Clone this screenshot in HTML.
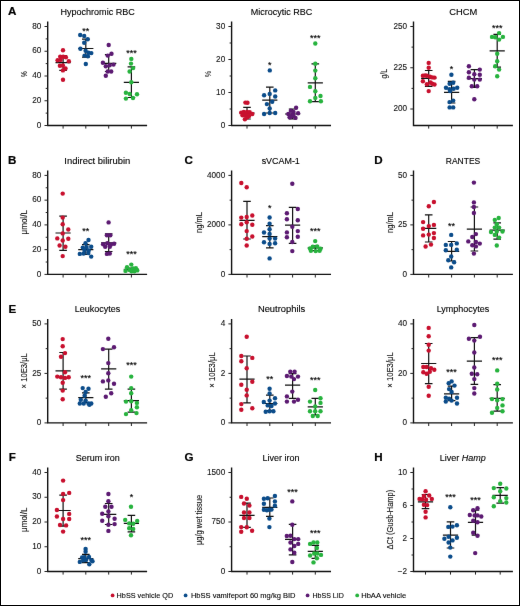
<!DOCTYPE html>
<html><head><meta charset="utf-8"><style>
html,body{margin:0;padding:0;background:#fff;}
.wrap{position:relative;width:520px;height:606px;box-sizing:border-box;border:1px solid #000;overflow:hidden;background:#fff}
svg{position:absolute;left:-1px;top:-1px;}
text{font-family:"Liberation Sans", sans-serif;fill:#000;stroke:#000;stroke-width:0.2px;}
.tk{font-size:8.2px;stroke-width:0.1px;fill:#111;stroke:#111}
.tt{font-size:9.7px;stroke-width:0.12px}
.lt{font-size:11.6px;font-weight:bold;fill:#000;stroke:#000;stroke-width:0.2px}
.yl{stroke-width:0.1px;fill:#111;stroke:#111}
.st{font-size:9px;stroke-width:0.15px;fill:#000}
.lg{font-size:8px;stroke-width:0.1px}
</style></head><body><div class="wrap">
<svg width="520" height="606" viewBox="0 0 520 606">
<defs><filter id="bl" x="0" y="0" width="100%" height="100%" color-interpolation-filters="sRGB" filterUnits="userSpaceOnUse"><feConvolveMatrix order="3" kernelMatrix="0.0016 0.0371 0.0016 0.0371 0.8450 0.0371 0.0016 0.0371 0.0016" edgeMode="duplicate" preserveAlpha="true"/></filter></defs>
<g filter="url(#bl)">
<rect x="0" y="0" width="520" height="606" fill="#fff"/>
<path d="M47.7 21.6V125.5H147.1" fill="none" stroke="#111" stroke-width="1.4"/>
<path d="M44.5 125.5H47.7M44.5 100.75H47.7M44.5 76H47.7M44.5 51.25H47.7M44.5 26.5H47.7M45.7 113.12H47.7M45.7 88.38H47.7M45.7 63.62H47.7M45.7 38.88H47.7M63.1 125.5V128.6M85.8 125.5V128.6M108.7 125.5V128.6M131.4 125.5V128.6" stroke="#222" stroke-width="1"/>
<text x="41.3" y="127.7" text-anchor="end" class="tk">0</text>
<text x="41.3" y="102.95" text-anchor="end" class="tk">20</text>
<text x="41.3" y="78.2" text-anchor="end" class="tk">40</text>
<text x="41.3" y="53.45" text-anchor="end" class="tk">60</text>
<text x="41.3" y="28.7" text-anchor="end" class="tk">80</text>
<text x="60.4" y="15.1" class="tt" textLength="74.4" lengthAdjust="spacingAndGlyphs">Hypochromic RBC</text>
<text x="8" y="15.1" class="lt">A</text>
<text transform="translate(26.9 76.9) rotate(-90)" class="yl" style="font-size:9.6px" textLength="5.8" lengthAdjust="spacingAndGlyphs">%</text>
<path d="M55.5 62.7H70.7M59.3 55.6H66.9M59.3 70.4H66.9M63.1 55.6V70.4" stroke="#111" stroke-width="1.2" fill="none"/>
<g fill="#c8102e"><circle cx="63" cy="50.2" r="2.2"/><circle cx="60.2" cy="56.6" r="2.2"/><circle cx="63.2" cy="56.8" r="2.2"/><circle cx="65.9" cy="57.2" r="2.2"/><circle cx="57.6" cy="60.2" r="2.2"/><circle cx="60.6" cy="59.9" r="2.2"/><circle cx="68.8" cy="61.2" r="2.2"/><circle cx="59.9" cy="65.8" r="2.2"/><circle cx="62.9" cy="65.5" r="2.2"/><circle cx="65.5" cy="68.5" r="2.2"/><circle cx="62.9" cy="70.4" r="2.2"/><circle cx="63" cy="79.8" r="2.2"/></g>
<path d="M78.2 48.5H93.4M82 39.2H89.6M82 57.1H89.6M85.8 39.2V57.1" stroke="#111" stroke-width="1.2" fill="none"/>
<g fill="#0b4c8a"><circle cx="80.2" cy="35" r="2.2"/><circle cx="84.2" cy="36" r="2.2"/><circle cx="87.7" cy="39.2" r="2.2"/><circle cx="84.2" cy="42.7" r="2.2"/><circle cx="80.4" cy="48.8" r="2.2"/><circle cx="85.6" cy="50.8" r="2.2"/><circle cx="88.5" cy="52.7" r="2.2"/><circle cx="91.3" cy="53.1" r="2.2"/><circle cx="84.6" cy="55.6" r="2.2"/><circle cx="87.9" cy="56.2" r="2.2"/><circle cx="85.8" cy="64" r="2.2"/></g>
<text x="85.8" y="33.5" text-anchor="middle" class="st">**</text>
<path d="M101.1 63.3H116.3M104.9 54.6H112.5M104.9 71.5H112.5M108.7 54.6V71.5" stroke="#111" stroke-width="1.2" fill="none"/>
<g fill="#5c1a72"><circle cx="108.7" cy="45" r="2.2"/><circle cx="111.5" cy="53.7" r="2.2"/><circle cx="107.7" cy="55.6" r="2.2"/><circle cx="102.9" cy="62.7" r="2.2"/><circle cx="105.8" cy="66.2" r="2.2"/><circle cx="109.6" cy="65.2" r="2.2"/><circle cx="113.5" cy="64.6" r="2.2"/><circle cx="107.7" cy="71.5" r="2.2"/><circle cx="111.2" cy="71.5" r="2.2"/><circle cx="105.8" cy="75.8" r="2.2"/></g>
<path d="M123.8 82.3H139M127.6 66.8H135.2M127.6 97.5H135.2M131.4 66.8V97.5" stroke="#111" stroke-width="1.2" fill="none"/>
<g fill="#27b33e"><circle cx="131.3" cy="58.9" r="2.2"/><circle cx="131" cy="63.6" r="2.2"/><circle cx="133.1" cy="68.1" r="2.2"/><circle cx="129.6" cy="71.5" r="2.2"/><circle cx="131.3" cy="82.3" r="2.2"/><circle cx="125.9" cy="92.8" r="2.2"/><circle cx="129.7" cy="94" r="2.2"/><circle cx="137" cy="94.2" r="2.2"/><circle cx="125.9" cy="98.6" r="2.2"/><circle cx="133" cy="98" r="2.2"/></g>
<text x="131.4" y="56.2" text-anchor="middle" class="st">***</text>
<path d="M231.6 21.6V125.5H331" fill="none" stroke="#111" stroke-width="1.4"/>
<path d="M228.4 125.5H231.6M228.4 92.5H231.6M228.4 59.5H231.6M228.4 26.5H231.6M229.6 109H231.6M229.6 76H231.6M229.6 43H231.6M247 125.5V128.6M269.8 125.5V128.6M292.6 125.5V128.6M315.3 125.5V128.6" stroke="#222" stroke-width="1"/>
<text x="225.2" y="127.7" text-anchor="end" class="tk">0</text>
<text x="225.2" y="94.7" text-anchor="end" class="tk">10</text>
<text x="225.2" y="61.7" text-anchor="end" class="tk">20</text>
<text x="225.2" y="28.7" text-anchor="end" class="tk">30</text>
<text x="250.75" y="15.1" class="tt" textLength="61.6" lengthAdjust="spacingAndGlyphs">Microcytic RBC</text>
<text transform="translate(210.5 76.9) rotate(-90)" class="yl" style="font-size:9.6px" textLength="6.0" lengthAdjust="spacingAndGlyphs">%</text>
<path d="M239.4 113H254.6M243.2 107.4H250.8M243.2 119H250.8M247 107.4V119" stroke="#111" stroke-width="1.2" fill="none"/>
<g fill="#c8102e"><circle cx="245.4" cy="102.6" r="2.2"/><circle cx="247.5" cy="102.8" r="2.2"/><circle cx="241.2" cy="112.6" r="2.2"/><circle cx="243.8" cy="112" r="2.2"/><circle cx="247.1" cy="112" r="2.2"/><circle cx="249.7" cy="112.3" r="2.2"/><circle cx="252.3" cy="114" r="2.2"/><circle cx="242.5" cy="115.3" r="2.2"/><circle cx="245.8" cy="115.3" r="2.2"/><circle cx="249.1" cy="115.9" r="2.2"/><circle cx="244.9" cy="119.2" r="2.2"/><circle cx="247.5" cy="117.2" r="2.2"/></g>
<path d="M262.2 100.1H277.4M266 87.1H273.6M266 113H273.6M269.8 87.1V113" stroke="#111" stroke-width="1.2" fill="none"/>
<g fill="#0b4c8a"><circle cx="269.8" cy="70.4" r="2.2"/><circle cx="275.2" cy="90.4" r="2.2"/><circle cx="269.7" cy="93.9" r="2.2"/><circle cx="264.1" cy="95.3" r="2.2"/><circle cx="275.2" cy="96.5" r="2.2"/><circle cx="272.2" cy="101.8" r="2.2"/><circle cx="266.9" cy="104.1" r="2.2"/><circle cx="269.7" cy="108.5" r="2.2"/><circle cx="264.1" cy="114" r="2.2"/><circle cx="269.7" cy="113" r="2.2"/><circle cx="275.2" cy="113" r="2.2"/></g>
<text x="269.8" y="67.6" text-anchor="middle" class="st">*</text>
<path d="M285 114H300.2M288.8 109H296.4M288.8 119H296.4M292.6 109V119" stroke="#111" stroke-width="1.2" fill="none"/>
<g fill="#5c1a72"><circle cx="296.1" cy="107.8" r="2.2"/><circle cx="290.9" cy="110.7" r="2.2"/><circle cx="293.5" cy="112" r="2.2"/><circle cx="288.3" cy="114" r="2.2"/><circle cx="292.2" cy="114.6" r="2.2"/><circle cx="298.1" cy="113.3" r="2.2"/><circle cx="289.6" cy="117.2" r="2.2"/><circle cx="295.5" cy="117.9" r="2.2"/><circle cx="293.5" cy="115.9" r="2.2"/><circle cx="290.7" cy="117.1" r="2.2"/></g>
<path d="M307.7 82.9H322.9M311.5 63.8H319.1M311.5 101.7H319.1M315.3 63.8V101.7" stroke="#111" stroke-width="1.2" fill="none"/>
<g fill="#27b33e"><circle cx="315.3" cy="43.5" r="2.2"/><circle cx="315.3" cy="63.7" r="2.2"/><circle cx="315.3" cy="70.6" r="2.2"/><circle cx="315.3" cy="78.3" r="2.2"/><circle cx="310" cy="86.9" r="2.2"/><circle cx="315.3" cy="91.2" r="2.2"/><circle cx="320.5" cy="96" r="2.2"/><circle cx="315.3" cy="97.9" r="2.2"/><circle cx="310" cy="101.2" r="2.2"/><circle cx="320.9" cy="101.2" r="2.2"/></g>
<text x="315.3" y="41.2" text-anchor="middle" class="st">***</text>
<path d="M413.5 21.6V125.5H512.9" fill="none" stroke="#111" stroke-width="1.4"/>
<path d="M410.3 109H413.5M410.3 67.75H413.5M410.3 26.5H413.5M411.5 88.38H413.5M411.5 47.12H413.5M428.7 125.5V128.6M451.6 125.5V128.6M474.4 125.5V128.6M497.2 125.5V128.6" stroke="#222" stroke-width="1"/>
<text x="407.1" y="111.2" text-anchor="end" class="tk">200</text>
<text x="407.1" y="69.95" text-anchor="end" class="tk">225</text>
<text x="407.1" y="28.7" text-anchor="end" class="tk">250</text>
<text x="449.2" y="15.1" class="tt" textLength="28.0" lengthAdjust="spacingAndGlyphs">CHCM</text>
<text transform="translate(387 78.6) rotate(-90)" class="yl" style="font-size:9.3px" textLength="9.6" lengthAdjust="spacingAndGlyphs">g/L</text>
<path d="M421.1 78.3H436.3M424.9 70.5H432.5M424.9 86.3H432.5M428.7 70.5V86.3" stroke="#111" stroke-width="1.2" fill="none"/>
<g fill="#c8102e"><circle cx="428.7" cy="62.9" r="2.2"/><circle cx="428.7" cy="67.8" r="2.2"/><circle cx="422.9" cy="75.8" r="2.2"/><circle cx="425.1" cy="75.4" r="2.2"/><circle cx="426.9" cy="75.8" r="2.2"/><circle cx="430" cy="76.7" r="2.2"/><circle cx="434.5" cy="77.6" r="2.2"/><circle cx="432.2" cy="77.4" r="2.2"/><circle cx="422.9" cy="81.2" r="2.2"/><circle cx="426.9" cy="84.3" r="2.2"/><circle cx="430.5" cy="82.5" r="2.2"/><circle cx="432.2" cy="83.8" r="2.2"/><circle cx="434.5" cy="84.5" r="2.2"/><circle cx="428.7" cy="91.1" r="2.2"/></g>
<path d="M444 92.3H459.2M447.8 81.3H455.4M447.8 103H455.4M451.6 81.3V103" stroke="#111" stroke-width="1.2" fill="none"/>
<g fill="#0b4c8a"><circle cx="451.4" cy="74.7" r="2.2"/><circle cx="449.6" cy="83.8" r="2.2"/><circle cx="453.2" cy="82.8" r="2.2"/><circle cx="446" cy="87.8" r="2.2"/><circle cx="449.6" cy="89.2" r="2.2"/><circle cx="453.6" cy="88.7" r="2.2"/><circle cx="457.2" cy="87.8" r="2.2"/><circle cx="450.1" cy="91" r="2.2"/><circle cx="449.6" cy="102.1" r="2.2"/><circle cx="453.2" cy="100.6" r="2.2"/><circle cx="449.6" cy="107.4" r="2.2"/><circle cx="453.2" cy="107.4" r="2.2"/></g>
<text x="451.6" y="71.6" text-anchor="middle" class="st">*</text>
<path d="M466.8 78.7H482M470.6 69.6H478.2M470.6 87.3H478.2M474.4 69.6V87.3" stroke="#111" stroke-width="1.2" fill="none"/>
<g fill="#5c1a72"><circle cx="468.9" cy="66.2" r="2.2"/><circle cx="468.9" cy="72.3" r="2.2"/><circle cx="474.3" cy="74.2" r="2.2"/><circle cx="479.8" cy="69.6" r="2.2"/><circle cx="479.8" cy="74.8" r="2.2"/><circle cx="468.9" cy="77.7" r="2.2"/><circle cx="474.3" cy="79.6" r="2.2"/><circle cx="479.8" cy="79.6" r="2.2"/><circle cx="471.8" cy="86.3" r="2.2"/><circle cx="477.2" cy="86.3" r="2.2"/><circle cx="474.3" cy="99.2" r="2.2"/></g>
<path d="M489.6 50.8H504.8M493.4 34.4H501M493.4 67.1H501M497.2 34.4V67.1" stroke="#111" stroke-width="1.2" fill="none"/>
<g fill="#27b33e"><circle cx="499.1" cy="33.1" r="2.2"/><circle cx="492" cy="36.9" r="2.2"/><circle cx="495.2" cy="37.3" r="2.2"/><circle cx="502.9" cy="36.9" r="2.2"/><circle cx="499.1" cy="39.6" r="2.2"/><circle cx="497.2" cy="53.7" r="2.2"/><circle cx="497.2" cy="61.3" r="2.2"/><circle cx="495.2" cy="66.2" r="2.2"/><circle cx="499.1" cy="69.6" r="2.2"/><circle cx="497.2" cy="76.2" r="2.2"/></g>
<text x="497.2" y="31.4" text-anchor="middle" class="st">***</text>
<path d="M47.7 170.5V274.4H147.1" fill="none" stroke="#111" stroke-width="1.4"/>
<path d="M44.5 274.4H47.7M44.5 249.65H47.7M44.5 224.9H47.7M44.5 200.15H47.7M44.5 175.4H47.7M45.7 262.02H47.7M45.7 237.27H47.7M45.7 212.52H47.7M45.7 187.77H47.7M63.1 274.4V277.5M85.8 274.4V277.5M108.7 274.4V277.5M131.4 274.4V277.5" stroke="#222" stroke-width="1"/>
<text x="41.3" y="276.6" text-anchor="end" class="tk">0</text>
<text x="41.3" y="251.85" text-anchor="end" class="tk">20</text>
<text x="41.3" y="227.1" text-anchor="end" class="tk">40</text>
<text x="41.3" y="202.35" text-anchor="end" class="tk">60</text>
<text x="41.3" y="177.6" text-anchor="end" class="tk">80</text>
<text x="64.35" y="163.6" class="tt" textLength="65.9" lengthAdjust="spacingAndGlyphs">Indirect bilirubin</text>
<text x="8" y="163.8" class="lt">B</text>
<text transform="translate(27 234.45) rotate(-90)" class="yl" style="font-size:9.4px" textLength="24.3" lengthAdjust="spacingAndGlyphs">μmol/L</text>
<path d="M55.5 233H70.7M59.3 216.1H66.9M59.3 250.3H66.9M63.1 216.1V250.3" stroke="#111" stroke-width="1.2" fill="none"/>
<g fill="#c8102e"><circle cx="62.7" cy="193.6" r="2.2"/><circle cx="62.7" cy="217.6" r="2.2"/><circle cx="62.7" cy="224.2" r="2.2"/><circle cx="68.3" cy="229.5" r="2.2"/><circle cx="62.7" cy="233.4" r="2.2"/><circle cx="57.3" cy="238.4" r="2.2"/><circle cx="68.3" cy="238.8" r="2.2"/><circle cx="62.7" cy="240.5" r="2.2"/><circle cx="59.6" cy="245.5" r="2.2"/><circle cx="65.4" cy="246.8" r="2.2"/><circle cx="62.7" cy="256.1" r="2.2"/></g>
<path d="M78.2 249.7H93.4M82 244.6H89.6M82 254.5H89.6M85.8 244.6V254.5" stroke="#111" stroke-width="1.2" fill="none"/>
<g fill="#0b4c8a"><circle cx="88.5" cy="240" r="2.2"/><circle cx="85.5" cy="243.3" r="2.2"/><circle cx="82.8" cy="247.6" r="2.2"/><circle cx="86.6" cy="247.1" r="2.2"/><circle cx="91.2" cy="246.7" r="2.2"/><circle cx="84.5" cy="250.1" r="2.2"/><circle cx="88.7" cy="250.5" r="2.2"/><circle cx="79.8" cy="253.9" r="2.2"/><circle cx="83.6" cy="253.5" r="2.2"/><circle cx="88.3" cy="253.1" r="2.2"/><circle cx="91.2" cy="256.6" r="2.2"/></g>
<text x="85.8" y="233.7" text-anchor="middle" class="st">**</text>
<path d="M101.1 242.9H116.3M104.9 233.8H112.5M104.9 251.5H112.5M108.7 233.8V251.5" stroke="#111" stroke-width="1.2" fill="none"/>
<g fill="#5c1a72"><circle cx="108.6" cy="222.4" r="2.2"/><circle cx="106.9" cy="235.3" r="2.2"/><circle cx="110.3" cy="235.3" r="2.2"/><circle cx="103.1" cy="244.2" r="2.2"/><circle cx="107.3" cy="243.3" r="2.2"/><circle cx="114.1" cy="243.8" r="2.2"/><circle cx="111" cy="244.5" r="2.2"/><circle cx="105.2" cy="246.7" r="2.2"/><circle cx="109.8" cy="246.7" r="2.2"/><circle cx="106.9" cy="253.9" r="2.2"/><circle cx="109.8" cy="253.5" r="2.2"/></g>
<path d="M123.8 269.4H139M127.6 268.2H135.2M127.6 270.6H135.2M131.4 268.2V270.6" stroke="#111" stroke-width="1.2" fill="none"/>
<g fill="#27b33e"><circle cx="131.3" cy="264.6" r="2.2"/><circle cx="127" cy="267.3" r="2.2"/><circle cx="125.5" cy="270.9" r="2.2"/><circle cx="129.6" cy="269.9" r="2.2"/><circle cx="133" cy="268.5" r="2.2"/><circle cx="135.9" cy="268.2" r="2.2"/><circle cx="137.3" cy="270.4" r="2.2"/><circle cx="131.5" cy="271.3" r="2.2"/><circle cx="134.4" cy="271.3" r="2.2"/></g>
<text x="131.4" y="256.5" text-anchor="middle" class="st">***</text>
<path d="M231.6 170.5V274.4H331" fill="none" stroke="#111" stroke-width="1.4"/>
<path d="M228.4 274.4H231.6M228.4 224.9H231.6M228.4 175.4H231.6M229.6 249.65H231.6M229.6 200.15H231.6M247 274.4V277.5M269.8 274.4V277.5M292.6 274.4V277.5M315.3 274.4V277.5" stroke="#222" stroke-width="1"/>
<text x="225.2" y="276.6" text-anchor="end" class="tk">0</text>
<text x="225.2" y="227.1" text-anchor="end" class="tk">2000</text>
<text x="225.2" y="177.6" text-anchor="end" class="tk">4000</text>
<text x="261.65" y="163.6" class="tt" textLength="38.2" lengthAdjust="spacingAndGlyphs">sVCAM-1</text>
<text x="184.6" y="163.8" class="lt">C</text>
<text transform="translate(202.1 232.9) rotate(-90)" class="yl" style="font-size:9.3px" textLength="20.8" lengthAdjust="spacingAndGlyphs">ng/mL</text>
<path d="M239.4 220.4H254.6M243.2 201.4H250.8M243.2 239H250.8M247 201.4V239" stroke="#111" stroke-width="1.2" fill="none"/>
<g fill="#c8102e"><circle cx="241.3" cy="183" r="2.2"/><circle cx="246.7" cy="187.2" r="2.2"/><circle cx="241.3" cy="217.6" r="2.2"/><circle cx="246.7" cy="217" r="2.2"/><circle cx="252.3" cy="215.5" r="2.2"/><circle cx="241.3" cy="224.2" r="2.2"/><circle cx="246.7" cy="222.2" r="2.2"/><circle cx="252.3" cy="224.7" r="2.2"/><circle cx="246.7" cy="231.1" r="2.2"/><circle cx="252.3" cy="236.5" r="2.2"/><circle cx="246.7" cy="238.8" r="2.2"/><circle cx="246.7" cy="245.5" r="2.2"/></g>
<path d="M262.2 236.7H277.4M266 225.6H273.6M266 247.8H273.6M269.8 225.6V247.8" stroke="#111" stroke-width="1.2" fill="none"/>
<g fill="#0b4c8a"><circle cx="269.6" cy="217.5" r="2.2"/><circle cx="269.6" cy="223.8" r="2.2"/><circle cx="269.6" cy="229.3" r="2.2"/><circle cx="264" cy="232.5" r="2.2"/><circle cx="269.6" cy="233.9" r="2.2"/><circle cx="269.6" cy="238.6" r="2.2"/><circle cx="275.1" cy="238.6" r="2.2"/><circle cx="264" cy="242.2" r="2.2"/><circle cx="269.6" cy="243.9" r="2.2"/><circle cx="275.1" cy="243.2" r="2.2"/><circle cx="269.6" cy="258.4" r="2.2"/></g>
<text x="269.8" y="210.5" text-anchor="middle" class="st">*</text>
<path d="M285 225.1H300.2M288.8 207.4H296.4M288.8 243.4H296.4M292.6 207.4V243.4" stroke="#111" stroke-width="1.2" fill="none"/>
<g fill="#5c1a72"><circle cx="292.3" cy="183.8" r="2.2"/><circle cx="297.8" cy="209" r="2.2"/><circle cx="286.9" cy="213.2" r="2.2"/><circle cx="286.9" cy="219.2" r="2.2"/><circle cx="297.8" cy="220.3" r="2.2"/><circle cx="292.3" cy="226.7" r="2.2"/><circle cx="286.9" cy="232.4" r="2.2"/><circle cx="297.8" cy="231.1" r="2.2"/><circle cx="297.8" cy="236.7" r="2.2"/><circle cx="292.3" cy="242" r="2.2"/><circle cx="292.3" cy="251.1" r="2.2"/><circle cx="286.9" cy="237.2" r="2.2"/></g>
<path d="M307.7 247.8H322.9M311.5 245.9H319.1M311.5 250.7H319.1M315.3 245.9V250.7" stroke="#111" stroke-width="1.2" fill="none"/>
<g fill="#27b33e"><circle cx="315.2" cy="241.1" r="2.2"/><circle cx="310" cy="248.4" r="2.2"/><circle cx="312.8" cy="246.8" r="2.2"/><circle cx="317.1" cy="246.5" r="2.2"/><circle cx="320.5" cy="248.8" r="2.2"/><circle cx="310.9" cy="250.7" r="2.2"/><circle cx="315.7" cy="251.1" r="2.2"/><circle cx="319.6" cy="250.7" r="2.2"/></g>
<text x="315.3" y="233.8" text-anchor="middle" class="st">***</text>
<path d="M413.5 170.5V274.4H512.9" fill="none" stroke="#111" stroke-width="1.4"/>
<path d="M410.3 274.4H413.5M410.3 224.9H413.5M410.3 175.4H413.5M411.5 249.65H413.5M411.5 200.15H413.5M428.7 274.4V277.5M451.6 274.4V277.5M474.4 274.4V277.5M497.2 274.4V277.5" stroke="#222" stroke-width="1"/>
<text x="407.1" y="276.6" text-anchor="end" class="tk">0</text>
<text x="407.1" y="227.1" text-anchor="end" class="tk">25</text>
<text x="407.1" y="177.6" text-anchor="end" class="tk">50</text>
<text x="445.75" y="163.6" class="tt" textLength="34.5" lengthAdjust="spacingAndGlyphs">RANTES</text>
<text x="374.2" y="163.8" class="lt">D</text>
<text transform="translate(393.1 232.9) rotate(-90)" class="yl" style="font-size:9.3px" textLength="20.8" lengthAdjust="spacingAndGlyphs">ng/mL</text>
<path d="M421.1 228.4H436.3M424.9 214.9H432.5M424.9 242H432.5M428.7 214.9V242" stroke="#111" stroke-width="1.2" fill="none"/>
<g fill="#c8102e"><circle cx="433.9" cy="202" r="2.2"/><circle cx="428.8" cy="206.2" r="2.2"/><circle cx="423.1" cy="222.1" r="2.2"/><circle cx="433.9" cy="224.9" r="2.2"/><circle cx="428.8" cy="226.1" r="2.2"/><circle cx="423.1" cy="228.7" r="2.2"/><circle cx="433.9" cy="233.1" r="2.2"/><circle cx="423.1" cy="235.4" r="2.2"/><circle cx="428.8" cy="234.6" r="2.2"/><circle cx="433.9" cy="238" r="2.2"/><circle cx="425.6" cy="246.5" r="2.2"/><circle cx="431" cy="244.6" r="2.2"/></g>
<path d="M444 251.3H459.2M447.8 241.5H455.4M447.8 261H455.4M451.6 241.5V261" stroke="#111" stroke-width="1.2" fill="none"/>
<g fill="#0b4c8a"><circle cx="451.2" cy="234.9" r="2.2"/><circle cx="445.8" cy="244.9" r="2.2"/><circle cx="451.2" cy="244.9" r="2.2"/><circle cx="456.8" cy="243.4" r="2.2"/><circle cx="445.8" cy="250.3" r="2.2"/><circle cx="456.8" cy="249.7" r="2.2"/><circle cx="451.2" cy="256.5" r="2.2"/><circle cx="448.3" cy="260.3" r="2.2"/><circle cx="454.1" cy="262.2" r="2.2"/><circle cx="451.2" cy="267.4" r="2.2"/></g>
<text x="451.6" y="228.9" text-anchor="middle" class="st">**</text>
<path d="M466.8 229.1H482M470.6 207H478.2M470.6 251H478.2M474.4 207V251" stroke="#111" stroke-width="1.2" fill="none"/>
<g fill="#5c1a72"><circle cx="473.9" cy="182.6" r="2.2"/><circle cx="473.9" cy="202.4" r="2.2"/><circle cx="473.9" cy="207" r="2.2"/><circle cx="473.9" cy="213" r="2.2"/><circle cx="475.9" cy="234.1" r="2.2"/><circle cx="472.3" cy="237" r="2.2"/><circle cx="468.3" cy="241.4" r="2.2"/><circle cx="475.9" cy="242" r="2.2"/><circle cx="479.8" cy="243.6" r="2.2"/><circle cx="472.3" cy="245.3" r="2.2"/><circle cx="475.9" cy="246.4" r="2.2"/><circle cx="473.9" cy="253.6" r="2.2"/></g>
<path d="M489.6 230.1H504.8M493.4 222.8H501M493.4 239.2H501M497.2 222.8V239.2" stroke="#111" stroke-width="1.2" fill="none"/>
<g fill="#27b33e"><circle cx="494.8" cy="219.9" r="2.2"/><circle cx="498.7" cy="218" r="2.2"/><circle cx="496.8" cy="224.2" r="2.2"/><circle cx="494.8" cy="227.6" r="2.2"/><circle cx="499.1" cy="227.6" r="2.2"/><circle cx="491" cy="232" r="2.2"/><circle cx="496.8" cy="231.5" r="2.2"/><circle cx="502.5" cy="231.5" r="2.2"/><circle cx="494.8" cy="234.9" r="2.2"/><circle cx="499.1" cy="237.6" r="2.2"/><circle cx="496.8" cy="245.5" r="2.2"/></g>
<path d="M47.7 319V422.9H147.1" fill="none" stroke="#111" stroke-width="1.4"/>
<path d="M44.5 422.9H47.7M44.5 373.4H47.7M44.5 323.9H47.7M45.7 398.15H47.7M45.7 348.65H47.7M63.1 422.9V426M85.8 422.9V426M108.7 422.9V426M131.4 422.9V426" stroke="#222" stroke-width="1"/>
<text x="41.3" y="425.1" text-anchor="end" class="tk">0</text>
<text x="41.3" y="375.6" text-anchor="end" class="tk">25</text>
<text x="41.3" y="326.1" text-anchor="end" class="tk">50</text>
<text x="74.75" y="312.3" class="tt" textLength="45.5" lengthAdjust="spacingAndGlyphs">Leukocytes</text>
<text x="8.6" y="312.5" class="lt">E</text>
<text transform="translate(26.8 388.4) rotate(-90)" class="yl" style="font-size:9.3px" textLength="35.2" lengthAdjust="spacingAndGlyphs">× 10E3/μL</text>
<path d="M55.5 370.8H70.7M59.3 352.5H66.9M59.3 389.1H66.9M63.1 352.5V389.1" stroke="#111" stroke-width="1.2" fill="none"/>
<g fill="#c8102e"><circle cx="62.7" cy="339.1" r="2.2"/><circle cx="62.7" cy="346.2" r="2.2"/><circle cx="65" cy="353.1" r="2.2"/><circle cx="61" cy="356.8" r="2.2"/><circle cx="65" cy="372.2" r="2.2"/><circle cx="57.3" cy="376.6" r="2.2"/><circle cx="61" cy="377.2" r="2.2"/><circle cx="65" cy="377.9" r="2.2"/><circle cx="68.7" cy="377.2" r="2.2"/><circle cx="62.7" cy="382.7" r="2.2"/><circle cx="62.7" cy="390.6" r="2.2"/><circle cx="62.7" cy="399.3" r="2.2"/></g>
<path d="M78.2 397.7H93.4M82 392.9H89.6M82 402.5H89.6M85.8 392.9V402.5" stroke="#111" stroke-width="1.2" fill="none"/>
<g fill="#0b4c8a"><circle cx="82.7" cy="388.1" r="2.2"/><circle cx="88.5" cy="388.7" r="2.2"/><circle cx="85.6" cy="392" r="2.2"/><circle cx="84.6" cy="395.8" r="2.2"/><circle cx="80.8" cy="399.7" r="2.2"/><circle cx="85.6" cy="400.6" r="2.2"/><circle cx="79.8" cy="403.5" r="2.2"/><circle cx="83.7" cy="403.5" r="2.2"/><circle cx="88.5" cy="403.5" r="2.2"/><circle cx="91.3" cy="403.5" r="2.2"/><circle cx="89.4" cy="404.8" r="2.2"/></g>
<text x="85.8" y="380.9" text-anchor="middle" class="st">***</text>
<path d="M101.1 368.9H116.3M104.9 349.1H112.5M104.9 389.1H112.5M108.7 349.1V389.1" stroke="#111" stroke-width="1.2" fill="none"/>
<g fill="#5c1a72"><circle cx="108.3" cy="338.7" r="2.2"/><circle cx="102.9" cy="349.1" r="2.2"/><circle cx="114" cy="347.2" r="2.2"/><circle cx="108.3" cy="363.1" r="2.2"/><circle cx="108.3" cy="373.3" r="2.2"/><circle cx="102.9" cy="381.4" r="2.2"/><circle cx="108.3" cy="380.4" r="2.2"/><circle cx="114" cy="383.7" r="2.2"/><circle cx="111.2" cy="393.3" r="2.2"/><circle cx="105.8" cy="396.8" r="2.2"/></g>
<path d="M123.8 400.6H139M127.6 389.1H135.2M127.6 412.2H135.2M131.4 389.1V412.2" stroke="#111" stroke-width="1.2" fill="none"/>
<g fill="#27b33e"><circle cx="131.2" cy="376.6" r="2.2"/><circle cx="131.2" cy="388.1" r="2.2"/><circle cx="131.2" cy="393.3" r="2.2"/><circle cx="126" cy="401.6" r="2.2"/><circle cx="131.2" cy="401.2" r="2.2"/><circle cx="136.9" cy="402.9" r="2.2"/><circle cx="136.9" cy="407.3" r="2.2"/><circle cx="131.2" cy="410.2" r="2.2"/><circle cx="126" cy="414.1" r="2.2"/><circle cx="136.5" cy="413.1" r="2.2"/></g>
<text x="131.4" y="368.4" text-anchor="middle" class="st">***</text>
<path d="M231.6 319V422.9H331" fill="none" stroke="#111" stroke-width="1.4"/>
<path d="M228.4 422.9H231.6M228.4 373.4H231.6M228.4 323.9H231.6M229.6 398.15H231.6M229.6 348.65H231.6M247 422.9V426M269.8 422.9V426M292.6 422.9V426M315.3 422.9V426" stroke="#222" stroke-width="1"/>
<text x="225.2" y="425.1" text-anchor="end" class="tk">0</text>
<text x="225.2" y="375.6" text-anchor="end" class="tk">2</text>
<text x="225.2" y="326.1" text-anchor="end" class="tk">4</text>
<text x="257.9" y="312.3" class="tt" textLength="47.4" lengthAdjust="spacingAndGlyphs">Neutrophils</text>
<text transform="translate(214.9 387.75) rotate(-90)" class="yl" style="font-size:9.3px" textLength="35.5" lengthAdjust="spacingAndGlyphs">× 10E3/μL</text>
<path d="M239.4 379.1H254.6M243.2 356H250.8M243.2 402.9H250.8M247 356V402.9" stroke="#111" stroke-width="1.2" fill="none"/>
<g fill="#c8102e"><circle cx="246.7" cy="336.8" r="2.2"/><circle cx="241.3" cy="356" r="2.2"/><circle cx="252.3" cy="357.9" r="2.2"/><circle cx="241.3" cy="361.2" r="2.2"/><circle cx="246.7" cy="368.3" r="2.2"/><circle cx="241.3" cy="384.7" r="2.2"/><circle cx="252.3" cy="381.8" r="2.2"/><circle cx="246.7" cy="389.7" r="2.2"/><circle cx="246.7" cy="395.4" r="2.2"/><circle cx="241.3" cy="404.1" r="2.2"/><circle cx="252.3" cy="408.3" r="2.2"/><circle cx="241.3" cy="409.8" r="2.2"/></g>
<path d="M262.2 403.5H277.4M266 395.2H273.6M266 410.5H273.6M269.8 395.2V410.5" stroke="#111" stroke-width="1.2" fill="none"/>
<g fill="#0b4c8a"><circle cx="269.6" cy="388.7" r="2.2"/><circle cx="269.6" cy="393.5" r="2.2"/><circle cx="275" cy="398.3" r="2.2"/><circle cx="263.8" cy="402" r="2.2"/><circle cx="269.6" cy="400.6" r="2.2"/><circle cx="275" cy="403.5" r="2.2"/><circle cx="267.7" cy="405.4" r="2.2"/><circle cx="271.5" cy="406" r="2.2"/><circle cx="265.7" cy="411.8" r="2.2"/><circle cx="269.6" cy="411.2" r="2.2"/><circle cx="273.4" cy="411.2" r="2.2"/></g>
<text x="269.8" y="381.8" text-anchor="middle" class="st">**</text>
<path d="M285 385.2H300.2M288.8 373.7H296.4M288.8 398.3H296.4M292.6 373.7V398.3" stroke="#111" stroke-width="1.2" fill="none"/>
<g fill="#5c1a72"><circle cx="290.3" cy="371.8" r="2.2"/><circle cx="294.6" cy="371.8" r="2.2"/><circle cx="286.9" cy="376" r="2.2"/><circle cx="291.3" cy="376.6" r="2.2"/><circle cx="298" cy="376.6" r="2.2"/><circle cx="294" cy="379.1" r="2.2"/><circle cx="292.3" cy="391.6" r="2.2"/><circle cx="286.9" cy="396.4" r="2.2"/><circle cx="298" cy="399.7" r="2.2"/><circle cx="286.9" cy="401.6" r="2.2"/><circle cx="294" cy="401.6" r="2.2"/></g>
<path d="M307.7 406.8H322.9M311.5 398.3H319.1M311.5 415H319.1M315.3 398.3V415" stroke="#111" stroke-width="1.2" fill="none"/>
<g fill="#27b33e"><circle cx="315.2" cy="390" r="2.2"/><circle cx="310" cy="401.6" r="2.2"/><circle cx="320.5" cy="398.3" r="2.2"/><circle cx="315.2" cy="406.4" r="2.2"/><circle cx="320.5" cy="402.9" r="2.2"/><circle cx="310" cy="411.2" r="2.2"/><circle cx="315.2" cy="411.2" r="2.2"/><circle cx="320.5" cy="411.2" r="2.2"/><circle cx="312.8" cy="416" r="2.2"/><circle cx="317.7" cy="416" r="2.2"/></g>
<text x="315.3" y="382.8" text-anchor="middle" class="st">***</text>
<path d="M413.5 319V422.9H512.9" fill="none" stroke="#111" stroke-width="1.4"/>
<path d="M410.3 422.9H413.5M410.3 373.4H413.5M410.3 323.9H413.5M411.5 398.15H413.5M411.5 348.65H413.5M428.7 422.9V426M451.6 422.9V426M474.4 422.9V426M497.2 422.9V426" stroke="#222" stroke-width="1"/>
<text x="407.1" y="425.1" text-anchor="end" class="tk">0</text>
<text x="407.1" y="375.6" text-anchor="end" class="tk">20</text>
<text x="407.1" y="326.1" text-anchor="end" class="tk">40</text>
<text x="436.65" y="312.3" class="tt" textLength="52.6" lengthAdjust="spacingAndGlyphs">Lymphocytes</text>
<text transform="translate(392.9 387.75) rotate(-90)" class="yl" style="font-size:9.3px" textLength="35.5" lengthAdjust="spacingAndGlyphs">× 10E3/μL</text>
<path d="M421.1 363.5H436.3M424.9 343.5H432.5M424.9 383.7H432.5M428.7 343.5V383.7" stroke="#111" stroke-width="1.2" fill="none"/>
<g fill="#c8102e"><circle cx="428.7" cy="327.9" r="2.2"/><circle cx="428.7" cy="336.2" r="2.2"/><circle cx="428.7" cy="344.8" r="2.2"/><circle cx="428.7" cy="350.6" r="2.2"/><circle cx="423.3" cy="367" r="2.2"/><circle cx="426.6" cy="367" r="2.2"/><circle cx="431" cy="368.3" r="2.2"/><circle cx="434.3" cy="369.8" r="2.2"/><circle cx="423.3" cy="372.2" r="2.2"/><circle cx="426.6" cy="373.7" r="2.2"/><circle cx="429.8" cy="371.8" r="2.2"/><circle cx="428.7" cy="386.8" r="2.2"/><circle cx="428.7" cy="395.8" r="2.2"/></g>
<path d="M444 393.9H459.2M447.8 386.2H455.4M447.8 400.6H455.4M451.6 386.2V400.6" stroke="#111" stroke-width="1.2" fill="none"/>
<g fill="#0b4c8a"><circle cx="451.6" cy="381.4" r="2.2"/><circle cx="448.7" cy="383.3" r="2.2"/><circle cx="454.5" cy="385.6" r="2.2"/><circle cx="449.1" cy="389.1" r="2.2"/><circle cx="451.6" cy="392" r="2.2"/><circle cx="445.8" cy="397.7" r="2.2"/><circle cx="449.1" cy="398.7" r="2.2"/><circle cx="451.6" cy="400.6" r="2.2"/><circle cx="457" cy="397.7" r="2.2"/><circle cx="445.8" cy="401.6" r="2.2"/><circle cx="457" cy="403.5" r="2.2"/></g>
<text x="451.6" y="374.5" text-anchor="middle" class="st">***</text>
<path d="M466.8 361.2H482M470.6 337.7H478.2M470.6 384.3H478.2M474.4 337.7V384.3" stroke="#111" stroke-width="1.2" fill="none"/>
<g fill="#5c1a72"><circle cx="474.3" cy="325" r="2.2"/><circle cx="468.9" cy="338.7" r="2.2"/><circle cx="480" cy="336.8" r="2.2"/><circle cx="474.3" cy="340.6" r="2.2"/><circle cx="474.3" cy="352.5" r="2.2"/><circle cx="474.3" cy="367.5" r="2.2"/><circle cx="471.8" cy="373.7" r="2.2"/><circle cx="477.2" cy="374.3" r="2.2"/><circle cx="474.3" cy="379.1" r="2.2"/><circle cx="474.3" cy="388.1" r="2.2"/><circle cx="474.3" cy="393.5" r="2.2"/></g>
<path d="M489.6 398.3H504.8M493.4 384.7H501M493.4 411.2H501M497.2 384.7V411.2" stroke="#111" stroke-width="1.2" fill="none"/>
<g fill="#27b33e"><circle cx="497.2" cy="370.4" r="2.2"/><circle cx="497.2" cy="383.7" r="2.2"/><circle cx="497.2" cy="389.5" r="2.2"/><circle cx="492" cy="399.1" r="2.2"/><circle cx="497.2" cy="400.2" r="2.2"/><circle cx="502.5" cy="399.1" r="2.2"/><circle cx="497.2" cy="407.9" r="2.2"/><circle cx="502.5" cy="405.4" r="2.2"/><circle cx="492" cy="412.7" r="2.2"/><circle cx="502.5" cy="411.2" r="2.2"/></g>
<text x="497.2" y="363" text-anchor="middle" class="st">***</text>
<path d="M47.7 467.6V571.5H147.1" fill="none" stroke="#111" stroke-width="1.4"/>
<path d="M44.5 571.5H47.7M44.5 546.75H47.7M44.5 522H47.7M44.5 497.25H47.7M44.5 472.5H47.7M63.1 571.5V574.6M85.8 571.5V574.6M108.7 571.5V574.6M131.4 571.5V574.6" stroke="#222" stroke-width="1"/>
<text x="41.3" y="573.7" text-anchor="end" class="tk">0</text>
<text x="41.3" y="548.95" text-anchor="end" class="tk">10</text>
<text x="41.3" y="524.2" text-anchor="end" class="tk">20</text>
<text x="41.3" y="499.45" text-anchor="end" class="tk">30</text>
<text x="41.3" y="474.7" text-anchor="end" class="tk">40</text>
<text x="75.75" y="461.3" class="tt" textLength="43.9" lengthAdjust="spacingAndGlyphs">Serum iron</text>
<text x="8.8" y="461" class="lt">F</text>
<text transform="translate(27.2 531.95) rotate(-90)" class="yl" style="font-size:9.4px" textLength="24.3" lengthAdjust="spacingAndGlyphs">μmol/L</text>
<path d="M55.5 510.5H70.7M59.3 495.2H66.9M59.3 526.2H66.9M63.1 495.2V526.2" stroke="#111" stroke-width="1.2" fill="none"/>
<g fill="#c8102e"><circle cx="63.1" cy="480.6" r="2.2"/><circle cx="63.1" cy="493.9" r="2.2"/><circle cx="69.2" cy="492.9" r="2.2"/><circle cx="63.1" cy="500.1" r="2.2"/><circle cx="56.9" cy="510" r="2.2"/><circle cx="69.2" cy="513.9" r="2.2"/><circle cx="56.9" cy="516.5" r="2.2"/><circle cx="63.1" cy="519" r="2.2"/><circle cx="69.2" cy="519" r="2.2"/><circle cx="60" cy="525" r="2.2"/><circle cx="66.1" cy="525.4" r="2.2"/><circle cx="63.1" cy="531.6" r="2.2"/></g>
<path d="M78.2 558.6H93.4M82 554.4H89.6M82 562.7H89.6M85.8 554.4V562.7" stroke="#111" stroke-width="1.2" fill="none"/>
<g fill="#0b4c8a"><circle cx="85.6" cy="548.9" r="2.2"/><circle cx="85.6" cy="551.8" r="2.2"/><circle cx="82.1" cy="557.5" r="2.2"/><circle cx="84.4" cy="557.3" r="2.2"/><circle cx="89" cy="557" r="2.2"/><circle cx="79.8" cy="561.9" r="2.2"/><circle cx="83.2" cy="560.4" r="2.2"/><circle cx="86.1" cy="559.9" r="2.2"/><circle cx="91.3" cy="560.1" r="2.2"/><circle cx="92.5" cy="561.3" r="2.2"/><circle cx="89.3" cy="564.2" r="2.2"/></g>
<text x="85.8" y="542.6" text-anchor="middle" class="st">***</text>
<path d="M101.1 514.3H116.3M104.9 503.5H112.5M104.9 524.5H112.5M108.7 503.5V524.5" stroke="#111" stroke-width="1.2" fill="none"/>
<g fill="#5c1a72"><circle cx="108.4" cy="494" r="2.2"/><circle cx="108.4" cy="501.3" r="2.2"/><circle cx="105.3" cy="506.8" r="2.2"/><circle cx="111.5" cy="506.8" r="2.2"/><circle cx="108.4" cy="511.5" r="2.2"/><circle cx="102.2" cy="513.7" r="2.2"/><circle cx="108.4" cy="516.3" r="2.2"/><circle cx="114.6" cy="518.8" r="2.2"/><circle cx="102.2" cy="520.7" r="2.2"/><circle cx="108.4" cy="524.7" r="2.2"/><circle cx="114.6" cy="524.1" r="2.2"/><circle cx="108.4" cy="530.9" r="2.2"/></g>
<path d="M123.8 523.4H139M127.6 515.3H135.2M127.6 531.8H135.2M131.4 515.3V531.8" stroke="#111" stroke-width="1.2" fill="none"/>
<g fill="#27b33e"><circle cx="131" cy="506.8" r="2.2"/><circle cx="125.2" cy="519.9" r="2.2"/><circle cx="137.2" cy="520.9" r="2.2"/><circle cx="129.2" cy="523.4" r="2.2"/><circle cx="133.2" cy="523.8" r="2.2"/><circle cx="129.2" cy="528.3" r="2.2"/><circle cx="133.2" cy="528.9" r="2.2"/><circle cx="131" cy="535.3" r="2.2"/></g>
<text x="131.4" y="500.3" text-anchor="middle" class="st">*</text>
<path d="M231.6 467.6V571.5H331" fill="none" stroke="#111" stroke-width="1.4"/>
<path d="M228.4 571.5H231.6M228.4 522H231.6M228.4 472.5H231.6M229.6 546.75H231.6M229.6 497.25H231.6M247 571.5V574.6M269.8 571.5V574.6M292.6 571.5V574.6M315.3 571.5V574.6" stroke="#222" stroke-width="1"/>
<text x="225.2" y="573.7" text-anchor="end" class="tk">0</text>
<text x="225.2" y="524.2" text-anchor="end" class="tk">750</text>
<text x="225.2" y="474.7" text-anchor="end" class="tk">1500</text>
<text x="262.6" y="461.3" class="tt" textLength="37.0" lengthAdjust="spacingAndGlyphs">Liver iron</text>
<text x="184.5" y="461" class="lt">G</text>
<text transform="translate(201.6 545) rotate(-90)" class="yl" style="font-size:9.2px" textLength="50.2" lengthAdjust="spacingAndGlyphs">μg/g wet tissue</text>
<path d="M239.4 515.3H254.6M243.2 503.2H250.8M243.2 527.3H250.8M247 503.2V527.3" stroke="#111" stroke-width="1.2" fill="none"/>
<g fill="#c8102e"><circle cx="241.2" cy="496.9" r="2.2"/><circle cx="246.8" cy="498.8" r="2.2"/><circle cx="244" cy="503.5" r="2.2"/><circle cx="249.4" cy="505.6" r="2.2"/><circle cx="244" cy="512.5" r="2.2"/><circle cx="249.4" cy="512.5" r="2.2"/><circle cx="244" cy="518" r="2.2"/><circle cx="249.4" cy="518" r="2.2"/><circle cx="241.2" cy="527.1" r="2.2"/><circle cx="246.8" cy="527.3" r="2.2"/><circle cx="241.2" cy="531.8" r="2.2"/><circle cx="252.1" cy="530.7" r="2.2"/></g>
<path d="M262.2 507.3H277.4M266 498H273.6M266 516.3H273.6M269.8 498V516.3" stroke="#111" stroke-width="1.2" fill="none"/>
<g fill="#0b4c8a"><circle cx="274.9" cy="496" r="2.2"/><circle cx="263.9" cy="498.8" r="2.2"/><circle cx="267.7" cy="498.3" r="2.2"/><circle cx="274.9" cy="501.4" r="2.2"/><circle cx="263.9" cy="503.7" r="2.2"/><circle cx="274.9" cy="505.8" r="2.2"/><circle cx="263.9" cy="509.8" r="2.2"/><circle cx="266.9" cy="510.2" r="2.2"/><circle cx="269.4" cy="509.8" r="2.2"/><circle cx="271.5" cy="509.6" r="2.2"/><circle cx="269.4" cy="518.6" r="2.2"/><circle cx="269.4" cy="527.1" r="2.2"/></g>
<path d="M285 539.4H300.2M288.8 524.3H296.4M288.8 554.9H296.4M292.6 524.3V554.9" stroke="#111" stroke-width="1.2" fill="none"/>
<g fill="#5c1a72"><circle cx="292.3" cy="501.4" r="2.2"/><circle cx="292.3" cy="524.7" r="2.2"/><circle cx="286.8" cy="536" r="2.2"/><circle cx="290.5" cy="535.7" r="2.2"/><circle cx="294.3" cy="539.1" r="2.2"/><circle cx="298.2" cy="539.1" r="2.2"/><circle cx="290.5" cy="542.5" r="2.2"/><circle cx="298.2" cy="543.9" r="2.2"/><circle cx="294.3" cy="546" r="2.2"/><circle cx="290.5" cy="549.4" r="2.2"/><circle cx="294.3" cy="552.8" r="2.2"/><circle cx="292.3" cy="562" r="2.2"/></g>
<text x="292.6" y="494.5" text-anchor="middle" class="st">***</text>
<path d="M307.7 551.4H322.9M311.5 545.3H319.1M311.5 558.3H319.1M315.3 545.3V558.3" stroke="#111" stroke-width="1.2" fill="none"/>
<g fill="#27b33e"><circle cx="310.1" cy="543.9" r="2.2"/><circle cx="313.5" cy="542.5" r="2.2"/><circle cx="317.3" cy="542.5" r="2.2"/><circle cx="316.9" cy="548" r="2.2"/><circle cx="310.1" cy="555.5" r="2.2"/><circle cx="314.2" cy="553.5" r="2.2"/><circle cx="317.3" cy="553.5" r="2.2"/><circle cx="321" cy="554.9" r="2.2"/><circle cx="316.9" cy="558.3" r="2.2"/><circle cx="313.5" cy="562.4" r="2.2"/></g>
<text x="315.3" y="535.9" text-anchor="middle" class="st">***</text>
<path d="M413.5 467.6V571.5H512.9" fill="none" stroke="#111" stroke-width="1.4"/>
<path d="M410.3 571.5H413.5M410.3 538.5H413.5M410.3 505.5H413.5M410.3 472.5H413.5M411.5 555H413.5M411.5 522H413.5M411.5 489H413.5M425.5 571.5V574.6M450.5 571.5V574.6M475.5 571.5V574.6M500.2 571.5V574.6" stroke="#222" stroke-width="1"/>
<text x="407.1" y="573.7" text-anchor="end" class="tk">−2</text>
<text x="407.1" y="540.7" text-anchor="end" class="tk">2</text>
<text x="407.1" y="507.7" text-anchor="end" class="tk">6</text>
<text x="407.1" y="474.7" text-anchor="end" class="tk">10</text>
<text x="439.75" y="461.3" class="tt" textLength="46.1" lengthAdjust="spacingAndGlyphs">Liver <tspan font-style="italic">Hamp</tspan></text>
<text x="374.2" y="461" class="lt">H</text>
<text transform="translate(392.8 549.4) rotate(-90)" class="yl" style="font-size:9.2px" textLength="59.6" lengthAdjust="spacingAndGlyphs">ΔCt (Gusb-Hamp)</text>
<path d="M417.9 501.8H433.1M421.7 494.5H429.3M421.7 508.7H429.3M425.5 494.5V508.7" stroke="#111" stroke-width="1.2" fill="none"/>
<g fill="#c8102e"><circle cx="425.6" cy="491.2" r="2.2"/><circle cx="423.9" cy="495.9" r="2.2"/><circle cx="429.2" cy="495.5" r="2.2"/><circle cx="419.5" cy="498.9" r="2.2"/><circle cx="422.2" cy="499.2" r="2.2"/><circle cx="426.1" cy="499.8" r="2.2"/><circle cx="431.8" cy="498.9" r="2.2"/><circle cx="423.9" cy="504.7" r="2.2"/><circle cx="427.2" cy="505.1" r="2.2"/><circle cx="425.6" cy="511.7" r="2.2"/><circle cx="425.6" cy="517.4" r="2.2"/></g>
<path d="M442.9 535.2H458.1M446.7 521.9H454.3M446.7 548H454.3M450.5 521.9V548" stroke="#111" stroke-width="1.2" fill="none"/>
<g fill="#0b4c8a"><circle cx="450.3" cy="507.3" r="2.2"/><circle cx="448.3" cy="526.9" r="2.2"/><circle cx="452.5" cy="526.6" r="2.2"/><circle cx="456.9" cy="525.3" r="2.2"/><circle cx="444.4" cy="538.8" r="2.2"/><circle cx="448.6" cy="536.8" r="2.2"/><circle cx="456.9" cy="537.7" r="2.2"/><circle cx="448.6" cy="542.5" r="2.2"/><circle cx="452.5" cy="540.4" r="2.2"/><circle cx="450.3" cy="547.6" r="2.2"/><circle cx="450.3" cy="556.6" r="2.2"/></g>
<text x="450.5" y="500.2" text-anchor="middle" class="st">***</text>
<path d="M467.9 522.3H483.1M471.7 510.2H479.3M471.7 535.2H479.3M475.5 510.2V535.2" stroke="#111" stroke-width="1.2" fill="none"/>
<g fill="#5c1a72"><circle cx="477.5" cy="508.3" r="2.2"/><circle cx="473.2" cy="510.2" r="2.2"/><circle cx="469.8" cy="515" r="2.2"/><circle cx="474.6" cy="515.4" r="2.2"/><circle cx="477.5" cy="515.4" r="2.2"/><circle cx="481.3" cy="516.5" r="2.2"/><circle cx="473.2" cy="520.8" r="2.2"/><circle cx="477.5" cy="522.3" r="2.2"/><circle cx="473.2" cy="532.7" r="2.2"/><circle cx="477.5" cy="535.8" r="2.2"/><circle cx="475.2" cy="553.1" r="2.2"/></g>
<text x="475.5" y="503.3" text-anchor="middle" class="st">***</text>
<path d="M492.6 495.4H507.8M496.4 487.7H504M496.4 503.1H504M500.2 487.7V503.1" stroke="#111" stroke-width="1.2" fill="none"/>
<g fill="#27b33e"><circle cx="500.2" cy="483.7" r="2.2"/><circle cx="493.8" cy="488.1" r="2.2"/><circle cx="506.3" cy="488.5" r="2.2"/><circle cx="500.2" cy="491.3" r="2.2"/><circle cx="493.8" cy="497.3" r="2.2"/><circle cx="506.3" cy="498.1" r="2.2"/><circle cx="500.2" cy="501.2" r="2.2"/><circle cx="506.3" cy="502.5" r="2.2"/><circle cx="493.8" cy="506.3" r="2.2"/></g>
<circle cx="112.6" cy="595.4" r="1.9" fill="#c8102e"/>
<text x="116.6" y="598.1" class="lg" textLength="56.6" lengthAdjust="spacingAndGlyphs">HbSS vehicle QD</text>
<circle cx="185.6" cy="595.4" r="1.9" fill="#0b4c8a"/>
<text x="190.9" y="598.1" class="lg" textLength="104.6" lengthAdjust="spacingAndGlyphs">HbSS vamifeport 60 mg/kg BID</text>
<circle cx="307.6" cy="595.4" r="1.9" fill="#5c1a72"/>
<text x="312.4" y="598.1" class="lg" textLength="31.4" lengthAdjust="spacingAndGlyphs">HbSS LID</text>
<circle cx="357.2" cy="595.4" r="1.9" fill="#27b33e"/>
<text x="361.2" y="598.1" class="lg" textLength="45.0" lengthAdjust="spacingAndGlyphs">HbAA vehicle</text>
</g>
</svg></div></body></html>
